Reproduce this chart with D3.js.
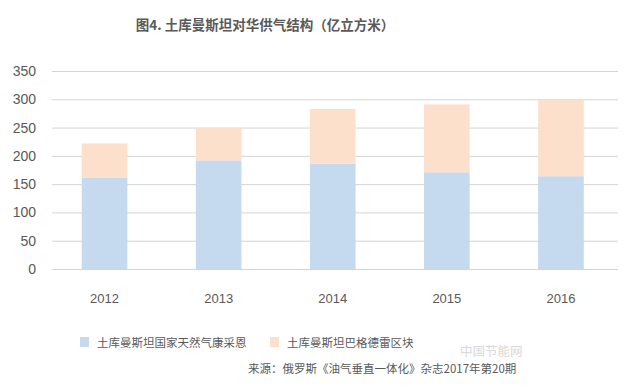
<!DOCTYPE html>
<html>
<head>
<meta charset="utf-8">
<script src="https://cdn.jsdelivr.net/npm/d3@7"></script>
<style>
  body { margin: 0; background: #fff; }
  text { font-family: "Noto Sans CJK SC", "Liberation Sans", sans-serif; }
</style>
</head>
<body>
<div id="chart"></div>
<script>
var years = ["2012", "2013", "2014", "2015", "2016"]
var turkmengaz = [161, 192, 186, 171, 164]
var bagtyyarlyk = [61, 58, 97, 120, 135]
var seriesNames = ["土库曼斯坦国家天然气康采恩", "土库曼斯坦巴格德雷区块"]
var yTicks = [0, 50, 100, 150, 200, 250, 300, 350]
var colors = ["#c5d9ef", "#fce0cc"]

var width = 640, height = 388

var svg = d3.select("#chart").append("svg")
    .attr("width", width)
    .attr("height", height)

// title
svg.append("text")
    .attr("x", 265)
    .attr("y", 30)
    .attr("text-anchor", "middle")
    .attr("font-size", 13.5)
    .attr("font-weight", "bold")
    .attr("fill", "#595959")
    .text("图4. 土库曼斯坦对华供气结构（亿立方米）")

var x = d3.scaleBand()
    .domain(years)
    .range([47.5, 618])
    .paddingInner(0.6)
    .paddingOuter(0.3)

var y = d3.scaleLinear()
    .domain([0, 350])
    .range([269, 71])

// gridlines
svg.append("g")
    .selectAll("line")
    .data(yTicks)
    .enter()
    .append("line")
    .attr("x1", 52)
    .attr("x2", 618)
    .attr("y1", function (d) { return y(d) + 0.5 })
    .attr("y2", function (d) { return y(d) + 0.5 })
    .attr("stroke", "#d4d4d4")
    .attr("stroke-width", 1)

// y tick labels
svg.append("g")
    .selectAll("text")
    .data(yTicks)
    .enter()
    .append("text")
    .attr("x", 36)
    .attr("y", function (d) { return y(d) + 5 })
    .attr("text-anchor", "end")
    .attr("font-size", 14)
    .attr("fill", "#595959")
    .style("font-family", "'Liberation Sans', sans-serif")
    .text(function (d) { return d })

// stacked bars
var rows = years.map(function (yr, i) {
    return { year: yr, a: turkmengaz[i], b: bagtyyarlyk[i] }
})
var stacked = d3.stack().keys(["a", "b"])(rows)

svg.append("g")
    .selectAll("g")
    .data(stacked)
    .enter()
    .append("g")
    .attr("fill", function (d, i) { return colors[i] })
    .selectAll("rect")
    .data(function (d) { return d })
    .enter()
    .append("rect")
    .attr("x", function (d) { return x(d.data.year) })
    .attr("y", function (d) { return y(d[1]) })
    .attr("width", x.bandwidth())
    .attr("height", function (d) { return y(d[0]) - y(d[1]) })

// x labels
svg.append("g")
    .selectAll("text")
    .data(years)
    .enter()
    .append("text")
    .attr("x", function (d) { return x(d) + x.bandwidth() / 2 })
    .attr("y", 303)
    .attr("text-anchor", "middle")
    .attr("font-size", 13)
    .attr("fill", "#595959")
    .style("font-family", "'Liberation Sans', sans-serif")
    .text(function (d) { return d })

// legend
var legendX = [80, 270]
var legend = svg.append("g")
    .selectAll("g")
    .data(seriesNames)
    .enter()
    .append("g")
    .attr("transform", function (d, i) { return "translate(" + legendX[i] + ",337)" })

legend.append("rect")
    .attr("width", 9)
    .attr("height", 10)
    .attr("fill", function (d, i) { return colors[i] })

legend.append("text")
    .attr("x", 17)
    .attr("y", 10)
    .attr("font-size", 11.5)
    .attr("fill", "#595959")
    .text(function (d) { return d })

// watermark
svg.append("text")
    .attr("x", 460)
    .attr("y", 356)
    .attr("font-size", 12.5)
    .attr("fill", "#d8d8d8")
    .text("中国节能网")

// source
svg.append("text")
    .attr("x", 248)
    .attr("y", 373)
    .attr("font-size", 11.5)
    .attr("fill", "#595959")
    .text("来源：俄罗斯《油气垂直一体化》杂志2017年第20期")
</script>
</body>
</html>
